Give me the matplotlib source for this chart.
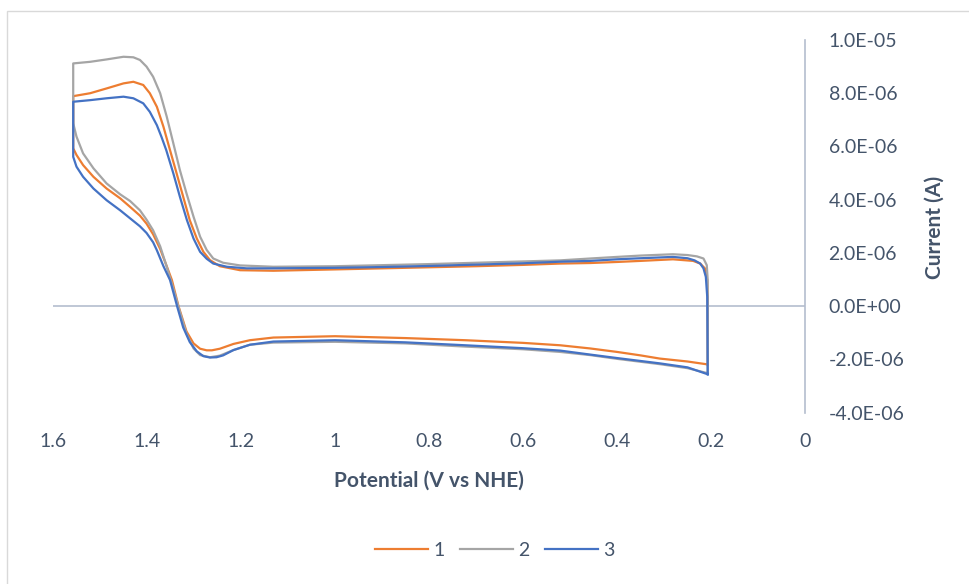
import matplotlib.pyplot as plt
from matplotlib.patches import Rectangle
from matplotlib.ticker import FuncFormatter, MultipleLocator

# cyclic voltammograms, current in microamps
# each cycle: forward sweep 0.207 -> 1.557 V, then back to 0.207 V
v_1 = [0.207, 0.207, 0.208, 0.213, 0.223, 0.238, 0.281, 0.35, 0.4, 0.457, 0.521, 0.6, 0.7, 0.8,
       0.9, 1.0, 1.131, 1.202, 1.245, 1.266, 1.280, 1.294, 1.309, 1.323, 1.337, 1.351, 1.365,
       1.379, 1.394, 1.408, 1.429, 1.450, 1.486, 1.521, 1.557,
       1.557, 1.550, 1.536, 1.514, 1.486, 1.457, 1.436, 1.415, 1.401, 1.387, 1.372, 1.358,
       1.347, 1.333, 1.316, 1.301, 1.287, 1.273, 1.262, 1.245, 1.216, 1.181, 1.131, 1.0,
       0.85, 0.723, 0.6, 0.521, 0.457, 0.4, 0.35, 0.309, 0.25, 0.207]
i_1 = [-2.19, 0.3, 0.98, 1.42, 1.6, 1.7, 1.76, 1.7, 1.66, 1.62, 1.6, 1.55, 1.5, 1.46,
       1.42, 1.38, 1.33, 1.35, 1.5, 1.73, 2.04, 2.54, 3.23, 4.11, 4.99, 5.86, 6.74,
       7.49, 8.0, 8.31, 8.43, 8.37, 8.18, 8.0, 7.89,
       5.93, 5.68, 5.3, 4.86, 4.42, 4.05, 3.73, 3.4, 3.1, 2.7, 2.15, 1.5,
       0.98, 0.0, -0.95, -1.4, -1.6, -1.66, -1.66, -1.6, -1.42, -1.28, -1.18, -1.13,
       -1.2, -1.28, -1.38, -1.47, -1.59, -1.72, -1.85, -1.97, -2.08, -2.19]

v_2 = [0.207, 0.207, 0.209, 0.216, 0.23, 0.25, 0.281, 0.35, 0.4, 0.457, 0.521, 0.6, 0.7, 0.8,
       0.9, 1.0, 1.131, 1.202, 1.238, 1.259, 1.273, 1.287, 1.301, 1.316, 1.330, 1.344, 1.358,
       1.372, 1.387, 1.401, 1.415, 1.429, 1.450, 1.486, 1.521, 1.557,
       1.557, 1.550, 1.536, 1.514, 1.486, 1.457, 1.436, 1.415, 1.401, 1.387, 1.372, 1.358,
       1.344, 1.330, 1.316, 1.301, 1.287, 1.266, 1.245, 1.216, 1.181, 1.131, 1.0,
       0.85, 0.723, 0.6, 0.521, 0.457, 0.4, 0.309, 0.25, 0.207]
i_2 = [-2.52, 0.98, 1.54, 1.79, 1.87, 1.92, 1.95, 1.9, 1.85, 1.79, 1.72, 1.68, 1.63, 1.58,
       1.54, 1.5, 1.48, 1.53, 1.63, 1.79, 2.11, 2.61, 3.36, 4.24, 5.11, 6.12, 7.12,
       8.0, 8.62, 9.0, 9.25, 9.35, 9.37, 9.27, 9.18, 9.12,
       6.87, 6.37, 5.74, 5.18, 4.61, 4.2, 3.95, 3.6, 3.25, 2.85, 2.25, 1.48,
       0.66, -0.21, -1.03, -1.59, -1.84, -1.92, -1.86, -1.65, -1.45, -1.37, -1.34,
       -1.4, -1.52, -1.62, -1.72, -1.84, -1.98, -2.18, -2.33, -2.52]

v_3 = [0.207, 0.208, 0.211, 0.216, 0.223, 0.235, 0.25, 0.281, 0.35, 0.4, 0.457, 0.521, 0.6,
       0.7, 0.8, 0.9, 1.0, 1.131, 1.188, 1.23, 1.259, 1.273, 1.287, 1.301, 1.315, 1.330,
       1.344, 1.359, 1.369, 1.379, 1.394, 1.408, 1.429, 1.450, 1.486, 1.521, 1.557,
       1.557, 1.550, 1.536, 1.514, 1.486, 1.457, 1.436, 1.415, 1.401, 1.387, 1.379, 1.365,
       1.351, 1.336, 1.323, 1.309, 1.294, 1.280, 1.266, 1.252, 1.238, 1.216, 1.181, 1.131,
       1.0, 0.85, 0.723, 0.6, 0.521, 0.457, 0.4, 0.309, 0.25, 0.207]
i_3 = [-2.56, 0.35, 1.1, 1.42, 1.6, 1.72, 1.8, 1.85, 1.8, 1.76, 1.7, 1.67, 1.61,
       1.56, 1.51, 1.47, 1.44, 1.42, 1.42, 1.48, 1.6, 1.78, 2.04, 2.54, 3.23, 4.11,
       4.99, 5.86, 6.35, 6.8, 7.3, 7.62, 7.81, 7.87, 7.81, 7.74, 7.68,
       5.61, 5.24, 4.86, 4.42, 3.98, 3.6, 3.3, 3.0, 2.75, 2.4, 2.1, 1.5,
       0.98, 0.0, -0.8, -1.35, -1.7, -1.88, -1.93, -1.92, -1.85, -1.65, -1.45, -1.33,
       -1.28, -1.36, -1.47, -1.58, -1.67, -1.82, -1.95, -2.15, -2.3, -2.56]

labels = ['1', '2', '3']
colors = ['#ED7D31', '#A5A5A5', '#4472C4']

txt = '#44546A'
axis_col = '#B4BDCE'

plt.rcParams['font.family'] = ['Lato', 'DejaVu Sans']

fig = plt.figure(figsize=(9.69, 5.84), dpi=100)
ax = fig.add_axes([53/969, 1 - 412.6/584, 752/969, 372.6/584])

for v, i, lab, c in zip([v_1, v_2, v_3], [i_1, i_2, i_3], labels, colors):
    ax.plot(v, [k * 1e-6 for k in i], color=c, lw=1.6, label=lab, solid_joinstyle='round')

ax.axhline(0, color=axis_col, lw=1.2, zorder=0)

ax.set_xlim(1.6, 0)
ax.set_ylim(-4e-6, 1e-5)
ax.xaxis.set_major_locator(MultipleLocator(0.2))
ax.yaxis.set_major_locator(MultipleLocator(2e-6))
ax.xaxis.set_major_formatter(FuncFormatter(lambda x, p: '{:g}'.format(round(x, 1))))
ax.yaxis.set_major_formatter(FuncFormatter(lambda y, p: '{:.1E}'.format(0 if abs(y) < 1e-12 else y)))

ax.yaxis.tick_right()
for s in ['left', 'top', 'bottom']:
    ax.spines[s].set_visible(False)
ax.spines['right'].set_color(axis_col)
ax.spines['right'].set_linewidth(1.2)
ax.tick_params(axis='both', length=0, labelsize=14, colors=txt)
ax.tick_params(axis='x', pad=15)
ax.tick_params(axis='y', pad=17)

ax.set_xlabel('Potential (V vs NHE)', fontsize=15, fontweight='bold', color=txt)
ax.xaxis.label.set_va('center')
ax.xaxis.set_label_coords(0.5, -(481 - 412.6) / 372.6)
fig.text(935/969, 1 - 227/584, 'Current (A)', rotation=90, ha='center', va='center',
         fontsize=15, fontweight='bold', color=txt)

leg = fig.legend(loc='center', bbox_to_anchor=(495/969, 1 - 550/584), ncol=3, frameon=False,
                 fontsize=14, handlelength=2.7, handletextpad=0.3, columnspacing=0.8)
for t in leg.get_texts():
    t.set_color(txt)

# chart area border
fig.patches.append(Rectangle((7/969, -0.1), 2, 1 - 11/584 + 0.1, transform=fig.transFigure,
                             fill=False, edgecolor='#D9D9D9', lw=1))

fig.savefig('out.png', dpi=100)
